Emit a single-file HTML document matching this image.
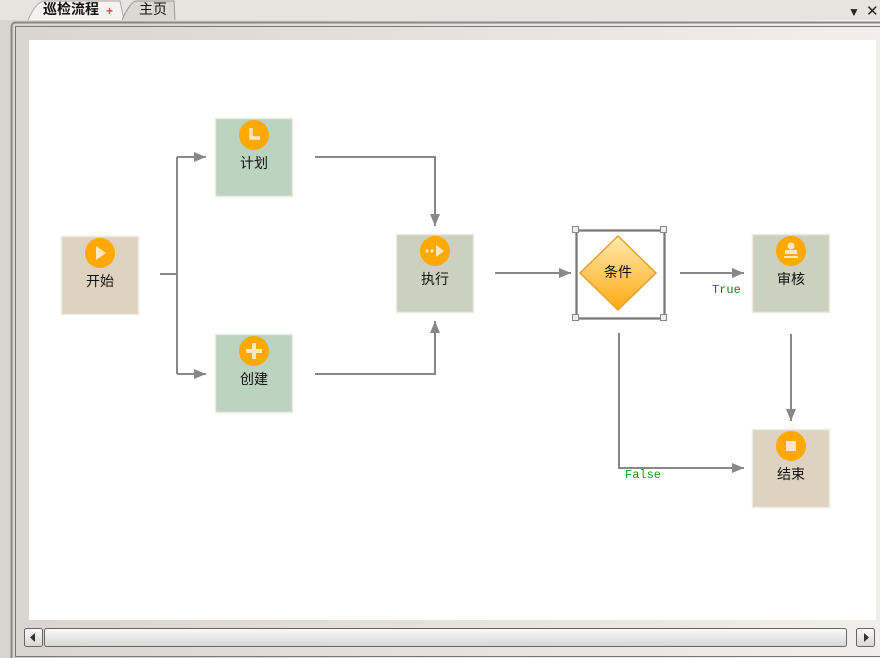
<!DOCTYPE html>
<html><head><meta charset="utf-8">
<style>
html,body{margin:0;padding:0;width:880px;height:658px;overflow:hidden;background:#e4e2dc;}
svg{display:block}
text{font-family:"Liberation Sans","Noto Sans CJK SC",sans-serif;}
</style></head><body>
<svg width="880" height="658" viewBox="0 0 880 658" xmlns="http://www.w3.org/2000/svg">
<defs>
<linearGradient id="bg" x1="0" x2="1"><stop offset="0" stop-color="#d8d5ce"/><stop offset="1" stop-color="#f0efed"/></linearGradient>
<linearGradient id="dia" x1="0" y1="0" x2="0" y2="1"><stop offset="0" stop-color="#ffe9b0"/><stop offset="1" stop-color="#ffaa10"/></linearGradient>
<linearGradient id="sb" x1="0" y1="0" x2="0" y2="1"><stop offset="0" stop-color="#fafafa"/><stop offset="1" stop-color="#d6d6d6"/></linearGradient>
<marker id="ar" viewBox="0 0 12 10" refX="12" refY="5" markerWidth="12" markerHeight="10" markerUnits="userSpaceOnUse" orient="auto"><path d="M0,0L12,5L0,10z" fill="#888"/></marker>
</defs>
<rect width="880" height="658" fill="url(#bg)"/>
<rect x="0" y="0" width="880" height="20" fill="#e6e4df"/>
<path d="M28,20 Q36,2 44,1 L120,1 L124,20" fill="#f4f3f0" stroke="#aaa"/>
<path d="M122,20 Q130,2 136,1 L174,1 L175,20" fill="#dcd9d2" stroke="#999"/>
<text x="43" y="14" font-size="14" font-weight="bold" fill="#111">巡检流程</text>
<text x="106" y="15" font-size="12" fill="#e44" font-weight="bold">+</text>
<text x="139" y="14" font-size="14" fill="#111">主页</text>
<text x="848" y="16" font-size="12" fill="#222">▼</text>
<text x="866" y="16" font-size="15" fill="#222">✕</text>
<rect x="11.5" y="22.5" width="880" height="640" rx="4" fill="none" stroke="#888" stroke-width="2"/>
<rect x="15.5" y="26.5" width="880" height="630" fill="none" stroke="#777" stroke-width="1"/>
<rect x="29" y="40" width="847" height="580" fill="#fff"/>
<rect x="24.5" y="628.5" width="18" height="18" rx="2" fill="url(#sb)" stroke="#666"/>
<path d="M30,637.5 L35,633 L35,642z" fill="#333"/>
<rect x="44.5" y="628.5" width="802" height="18" rx="2" fill="url(#sb)" stroke="#666"/>
<rect x="856.5" y="628.5" width="18" height="18" rx="2" fill="url(#sb)" stroke="#666"/>
<path d="M869,637.5 L864,633 L864,642z" fill="#333"/>
<g fill="none" stroke="#888" stroke-width="2">
<path d="M160,274H177"/>
<path d="M177,157V374"/>
<path d="M177,157H206" marker-end="url(#ar)"/>
<path d="M177,374H206" marker-end="url(#ar)"/>
<path d="M315,157H435V226" marker-end="url(#ar)"/>
<path d="M315,374H435V321" marker-end="url(#ar)"/>
<path d="M495,273H571" marker-end="url(#ar)"/>
<path d="M680,273H744" marker-end="url(#ar)"/>
<path d="M791,334V421" marker-end="url(#ar)"/>
<path d="M619,333V468H744" marker-end="url(#ar)"/>
</g>
<text x="712" y="293" style="font-family:'Liberation Mono',monospace" font-size="12" fill="#1a7a1a">True</text>
<text x="625" y="478" style="font-family:'Liberation Mono',monospace" font-size="12" fill="#1a9a1a">False</text>
<g stroke="#eeeae0" stroke-width="1.5">
<rect x="61.5" y="236.5" width="77" height="78" fill="#ddd3c0"/>
<rect x="215.5" y="118.5" width="77" height="78" fill="#bcd3bf"/>
<rect x="215.5" y="334.5" width="77" height="78" fill="#bcd3bf"/>
<rect x="396.5" y="234.5" width="77" height="78" fill="#ccd1bf"/>
<rect x="752.5" y="234.5" width="77" height="78" fill="#ccd1bf"/>
<rect x="752.5" y="429.5" width="77" height="78" fill="#ddd3c0"/>
</g>
<g fill="#fea800">
<circle cx="100" cy="253" r="15"/>
<circle cx="254" cy="135" r="15"/>
<circle cx="254" cy="351" r="15"/>
<circle cx="435" cy="251" r="15"/>
<circle cx="791" cy="251" r="15"/>
<circle cx="791" cy="446" r="15"/>
</g>
<path d="M96,246 L106,253 L96,260z" fill="#fde7c0"/>
<path d="M251,128V138H260" fill="none" stroke="#fde7c0" stroke-width="3.5"/>
<path d="M254,343V359M246,351H262" stroke="#fde7c0" stroke-width="4"/>
<circle cx="427" cy="251" r="1.6" fill="#fde7c0"/><circle cx="432" cy="251" r="1.6" fill="#fde7c0"/>
<path d="M436,245 L444,251 L436,257z" fill="#fde7c0"/>
<circle cx="791" cy="246" r="3.5" fill="#fde7c0"/>
<rect x="785" y="250" width="12" height="4" fill="#fde7c0"/><rect x="784" y="256" width="14" height="2" fill="#fde7c0"/>
<rect x="786" y="441" width="10" height="10" fill="#fde7c0"/>
<g font-size="14" fill="#111" text-anchor="middle">
<text x="100" y="286">开始</text>
<text x="254" y="168">计划</text>
<text x="254" y="384">创建</text>
<text x="435" y="284">执行</text>
<text x="791" y="284">审核</text>
<text x="791" y="479">结束</text>
</g>
<rect x="576.5" y="230.5" width="88" height="88" fill="none" stroke="#aaa" stroke-width="3"/>
<rect x="576.5" y="230.5" width="88" height="88" fill="none" stroke="#777" stroke-width="1"/>
<g fill="#eee" stroke="#888">
<rect x="572.5" y="226.5" width="6" height="6"/><rect x="660.5" y="226.5" width="6" height="6"/>
<rect x="572.5" y="314.5" width="6" height="6"/><rect x="660.5" y="314.5" width="6" height="6"/>
</g>
<path d="M618,236 L656,273 L618,310 L580,273z" fill="url(#dia)" stroke="#e8a030" stroke-width="1.5"/>
<text x="618" y="277" font-size="14" fill="#111" text-anchor="middle">条件</text>
</svg>
</body></html>
